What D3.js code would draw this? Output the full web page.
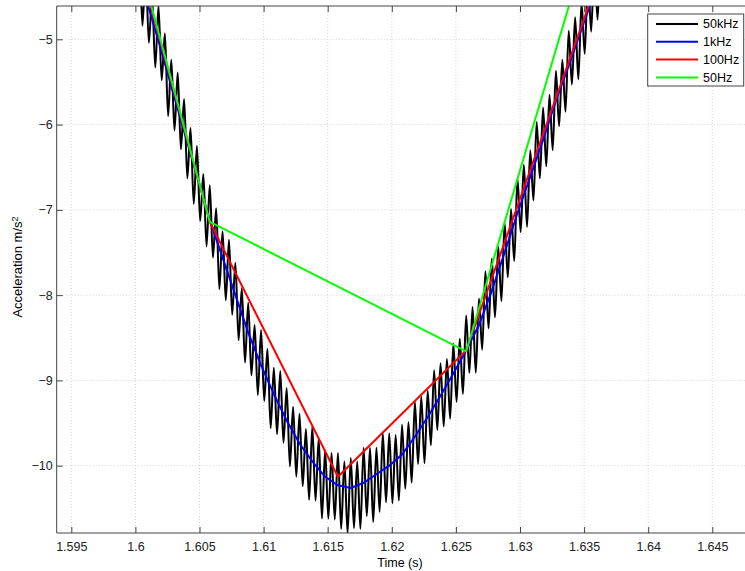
<!DOCTYPE html>
<html>
<head>
<meta charset="utf-8">
<script src="https://cdn.jsdelivr.net/npm/d3@7"></script>
<style>
  body { margin: 0; background: #fff; }
  text { font-family: "Liberation Sans", Arial, Helvetica, sans-serif; }
  .grid line { stroke: #d4d4d4; stroke-dasharray: 1,2; }
  .axis path, .axis line { stroke: #444; }
  .axis text { font-size: 12.5px; fill: #222; }
</style>
</head>
<body>
<div id="chart"></div>
<script>
// DATA //

// 50Hz samples
var t50 = [1.5858, 1.6058, 1.6258, 1.6458];
var a50 = [3.98, -7.14, -8.66, 1.45];

// 100Hz samples
var t100 = [1.5958, 1.6058, 1.6158, 1.6258, 1.6358];
var a100 = [-1.66, -7.14, -10.13, -8.65, -4.42];

// 1kHz samples (1.5998 .. 1.6368, 1 ms apart)
var t1k = [1.5998, 1.6008, 1.6018, 1.6028, 1.6038, 1.6048, 1.6058, 1.6068, 1.6078, 1.6088,
  1.6098, 1.6108, 1.6118, 1.6128, 1.6138, 1.6148, 1.6158, 1.6168, 1.6178, 1.6188,
  1.6198, 1.6208, 1.6218, 1.6228, 1.6238, 1.6248, 1.6258, 1.6268, 1.6278, 1.6288,
  1.6298, 1.6308, 1.6318, 1.6328, 1.6338, 1.6348, 1.6358, 1.6368];
var a1k = [-4.00, -4.51, -5.02, -5.55, -6.08, -6.60, -7.12, -7.56, -8.00, -8.44,
  -8.82, -9.16, -9.47, -9.74, -9.95, -10.13, -10.23, -10.26, -10.20, -10.10,
  -10.00, -9.87, -9.66, -9.43, -9.18, -8.92, -8.65, -8.35, -7.95, -7.50,
  -7.04, -6.61, -6.18, -5.72, -5.31, -4.88, -4.46, -4.00];

// 50kHz trace, peaks and troughs, every 0.25 ms from 1.5998
var t50kStart = 1.5998, t50kStep = 0.00025;
var a50k = [-3.62, -4.55, -3.96, -4.84, -4.16, -5.04, -4.49, -5.33, -4.61, -5.48,
  -4.93, -5.90, -5.24, -6.07, -5.39, -6.29, -5.70, -6.63, -6.04, -6.93,
  -6.25, -7.13, -6.58, -7.43, -6.71, -7.56, -6.98, -7.93, -7.25, -8.06,
  -7.35, -8.23, -7.62, -8.53, -7.92, -8.79, -8.09, -8.94, -8.35, -9.17,
  -8.41, -9.24, -8.63, -9.56, -8.85, -9.63, -8.89, -9.73, -9.09, -10.01,
  -9.31, -10.13, -9.39, -10.24, -9.57, -10.40, -9.54, -10.41, -9.68, -10.62,
  -9.82, -10.62, -9.85, -10.63, -9.85, -10.74, -9.95, -10.79, -9.91, -10.73,
  -9.95, -10.74, -9.79, -10.59, -9.79, -10.66, -9.79, -10.54, -9.62, -10.43,
  -9.62, -10.44, -9.64, -10.41, -9.52, -10.27, -9.49, -10.20, -9.25, -9.98,
  -9.19, -9.97, -9.12, -9.76, -8.88, -9.58, -8.80, -9.54, -8.75, -9.45,
  -8.57, -9.25, -8.51, -9.16, -8.24, -8.91, -8.14, -8.91, -8.04, -8.64,
  -7.72, -8.39, -7.57, -8.26, -7.43, -8.07, -7.15, -7.79, -6.99, -7.60,
  -6.63, -7.26, -6.47, -7.20, -6.30, -6.89, -5.97, -6.63, -5.80, -6.49,
  -5.65, -6.30, -5.37, -6.02, -5.24, -5.85, -4.90, -5.53, -4.74, -5.47,
  -4.57, -5.17, -4.24, -4.91, -4.08, -4.77, -3.93, -4.58, -3.65];

var xTicks = [1.595, 1.6, 1.605, 1.61, 1.615, 1.62, 1.625, 1.63, 1.635, 1.64, 1.645];
var yTicks = [-5, -6, -7, -8, -9, -10];

var seriesNames = ["50kHz", "1kHz", "100Hz", "50Hz"];
var seriesColors = ["#000000", "#0000ff", "#ff0000", "#00ff00"];

// LAYOUT //
var w = 745, h = 571;
var plotLeft = 56.7, plotTop = 6, plotRight = 760, plotBottom = 533;

var svg = d3.select("#chart").append("svg")
  .attr("width", w)
  .attr("height", h);

var x = d3.scaleLinear().domain([1.595, 1.645]).range([71.3, 712.3]);
var y = d3.scaleLinear().domain([-5, -10]).range([39.3, 465.7]);

// grid
svg.append("g").attr("class", "grid")
  .selectAll("line.gx").data(xTicks).enter().append("line")
  .attr("x1", d => x(d)).attr("x2", d => x(d))
  .attr("y1", plotTop).attr("y2", plotBottom);
svg.append("g").attr("class", "grid")
  .selectAll("line.gy").data(yTicks).enter().append("line")
  .attr("x1", plotLeft).attr("x2", plotRight)
  .attr("y1", d => y(d)).attr("y2", d => y(d));

// clip for the traces
svg.append("clipPath").attr("id", "clip")
  .append("rect")
  .attr("x", plotLeft).attr("y", plotTop)
  .attr("width", plotRight - plotLeft).attr("height", plotBottom - plotTop);

var lines = svg.append("g").attr("clip-path", "url(#clip)");

var black = a50k.map(function (v, i) { return [t50kStart + i * t50kStep, v]; });
var blue = t1k.map(function (t, i) { return [t, a1k[i]]; });
var red = t100.map(function (t, i) { return [t, a100[i]]; });
var green = t50.map(function (t, i) { return [t, a50[i]]; });

var smooth = d3.line().x(d => x(d[0])).y(d => y(d[1])).curve(d3.curveMonotoneX);
var straight = d3.line().x(d => x(d[0])).y(d => y(d[1]));

lines.append("path").attr("d", smooth(black))
  .attr("fill", "none").attr("stroke", seriesColors[0]).attr("stroke-width", 2)
  .attr("stroke-linejoin", "round");
lines.append("path").attr("d", straight(blue))
  .attr("fill", "none").attr("stroke", seriesColors[1]).attr("stroke-width", 2);
lines.append("path").attr("d", straight(red))
  .attr("fill", "none").attr("stroke", seriesColors[2]).attr("stroke-width", 2);
lines.append("path").attr("d", straight(green))
  .attr("fill", "none").attr("stroke", seriesColors[3]).attr("stroke-width", 2);

// axes, ticks pointing inward like matlab
svg.append("g").attr("class", "axis")
  .attr("transform", "translate(0," + plotBottom + ")")
  .call(d3.axisBottom(x).tickValues(xTicks).tickFormat(d3.format("")).tickSize(-6).tickPadding(9).tickSizeOuter(0))
  .call(g => g.select(".domain").attr("d", "M" + plotLeft + ",0H" + plotRight));

svg.append("g").attr("class", "axis")
  .attr("transform", "translate(0," + plotTop + ")")
  .call(d3.axisTop(x).tickValues(xTicks).tickFormat("").tickSize(-6).tickSizeOuter(0))
  .call(g => g.select(".domain").attr("d", "M" + plotLeft + ",0H" + plotRight));

svg.append("g").attr("class", "axis")
  .attr("transform", "translate(" + plotLeft + ",0)")
  .call(d3.axisLeft(y).tickValues(yTicks).tickFormat(d3.format("d")).tickSize(-6).tickPadding(4).tickSizeOuter(0))
  .call(g => g.select(".domain").attr("d", "M0," + plotTop + "V" + plotBottom));

// axis labels
svg.append("text")
  .attr("x", 400).attr("y", 567)
  .attr("text-anchor", "middle")
  .style("font-size", "12.5px")
  .text("Time (s)");

var yl = svg.append("text")
  .attr("transform", "translate(22,267) rotate(-90)")
  .attr("text-anchor", "middle")
  .style("font-size", "13px");
yl.append("tspan").text("Acceleration m/s");
yl.append("tspan").attr("dy", "-0.45em").style("font-size", "9px").text("2");

// legend
var legend = svg.append("g");
legend.append("rect")
  .attr("x", 647.7).attr("y", 14)
  .attr("width", 96).attr("height", 72)
  .attr("fill", "#fff").attr("stroke", "#444").attr("stroke-width", 1);

var rows = legend.selectAll("g.row").data(seriesNames).enter().append("g")
  .attr("transform", (d, i) => "translate(0," + (24 + i * 17.8) + ")");
rows.append("line")
  .attr("x1", 656).attr("x2", 698)
  .attr("stroke", (d, i) => seriesColors[i]).attr("stroke-width", 2);
rows.append("text")
  .attr("x", 703).attr("dy", "0.35em")
  .style("font-size", "12.5px")
  .text(d => d);
</script>
</body>
</html>
